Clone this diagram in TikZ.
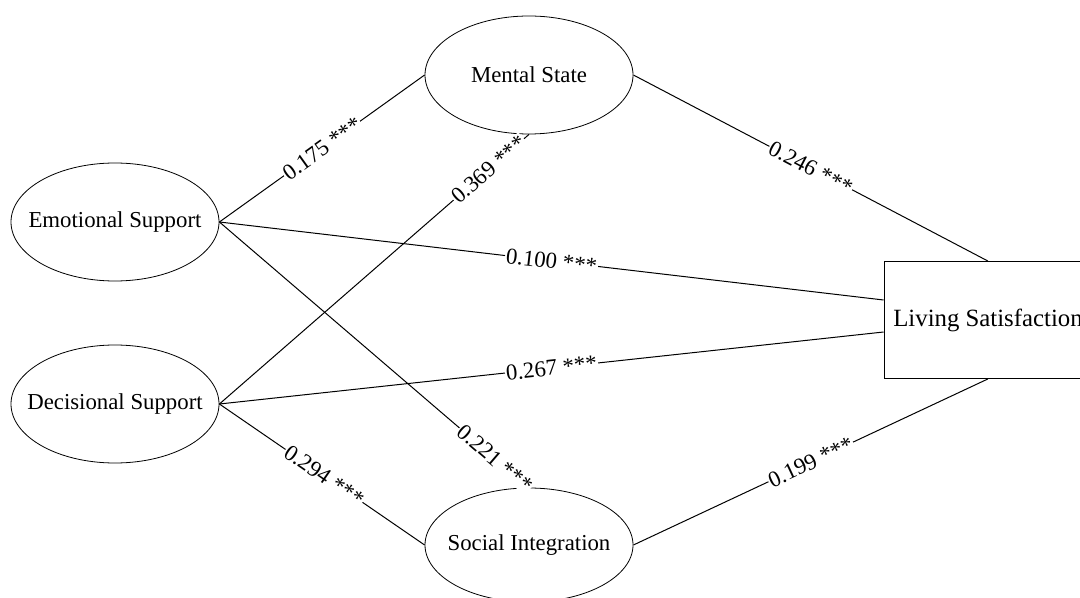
\documentclass[tikz,border=0pt]{standalone}
\usepackage{fontspec}
\setmainfont{Liberation Serif}
\usetikzlibrary{shapes.geometric}
\begin{document}
\begin{tikzpicture}
        [x=0.5pt, y=-0.5pt,
         font=\fontsize{11.4}{13.7}\selectfont,
         latent_style/.style={ellipse,draw=black,minimum width=104pt,minimum height=59pt,inner xsep=-9pt,inner ysep=0pt},
         observed_style/.style={rectangle,draw=black,minimum width=104pt,minimum height=58.5pt,inner sep=0pt,font=\fontsize{12.4}{14.9}\selectfont},
         edge_style/.style={draw=black,line width=0.5pt},
         label_style/.style={sloped,fill=white,inner sep=0.5pt}]
            \useasboundingbox (0,0) rectangle (1080,598);
            \node[latent_style] (es) at (115, 222)  {Emotional Support};
            \node[latent_style] (ds) at (115, 404)  {Decisional Support};
            \node[latent_style] (ms) at (529, 75)  {Mental State};
            \node[latent_style,minimum height=57pt] (si) at (529, 545)  {Social Integration};
            \node[observed_style] (ls) at (988, 320)  {Living Satisfaction};
            \draw[edge_style]  (es.east) edge node[label_style,pos=0.5]{0.175 ***} (ms.west);
            \draw[edge_style]  (es.east) edge node[label_style,pos=0.5]{0.100 ***} ([yshift=10pt]ls.west);
            \draw[edge_style]  (es.east) edge node[label_style,pos=0.89]{0.221 ***} (si.north);
            \draw[edge_style]  (ds.east) edge node[label_style,pos=0.87]{0.369 ***} (ms.south);
            \draw[edge_style]  (ds.east) edge node[label_style,pos=0.5]{0.267 ***} ([yshift=-6pt]ls.west);
            \draw[edge_style]  (ds.east) edge node[label_style,pos=0.51]{0.294 ***} (si.west);
            \draw[edge_style]  (ms.east) edge node[label_style,pos=0.5]{0.246 ***} (ls.north);
            \draw[edge_style]  (si.east) edge node[label_style,pos=0.5]{0.199 ***} (ls.south);
        \end{tikzpicture}
\end{document}
